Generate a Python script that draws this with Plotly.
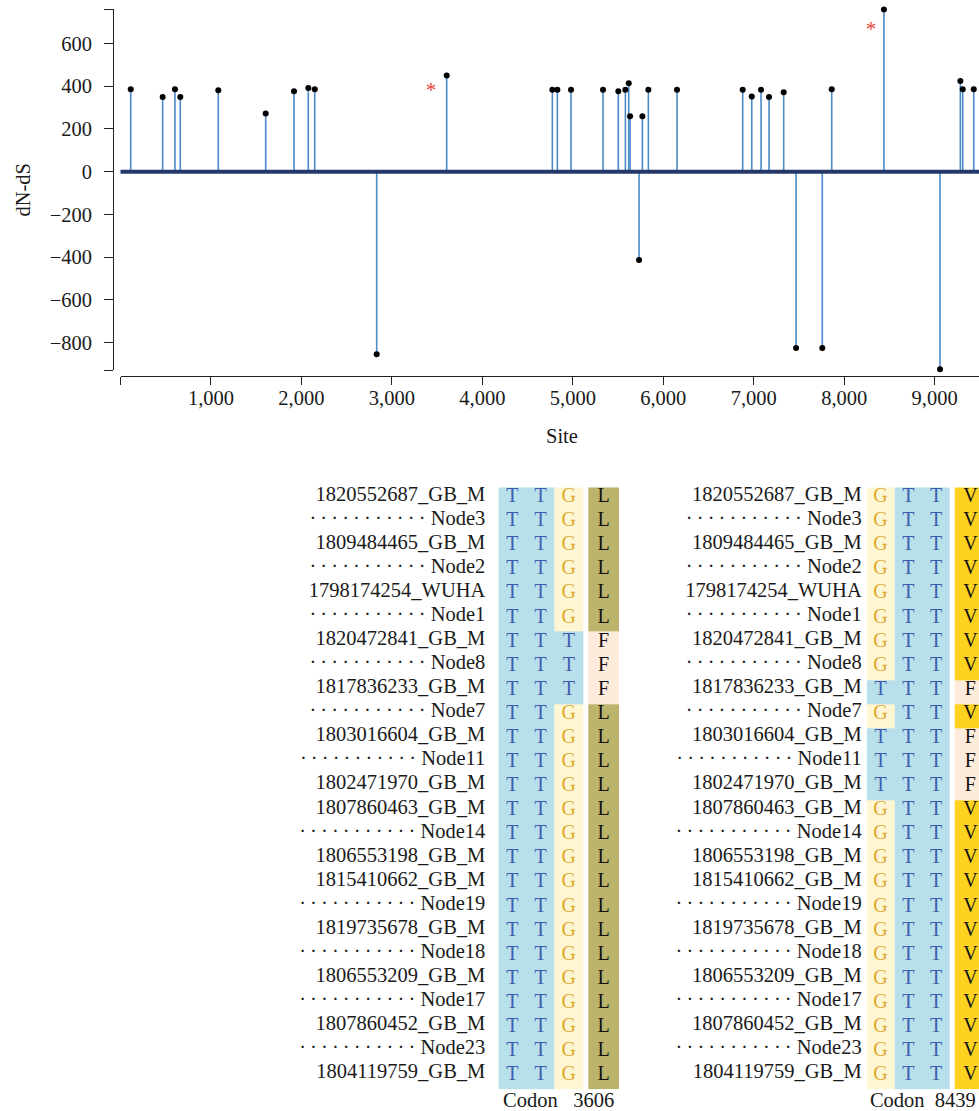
import plotly.graph_objects as go
import numpy as np

W, H = 979, 1111
FONT = "Liberation Serif"

# ---------------- data: dN-dS per site ----------------
sites = [113, 466, 602, 661, 1081, 1605, 1918, 2076, 2147, 2832, 3606, 4774,
         4829, 4980, 5334, 5503, 5581, 5618, 5633, 5732, 5769, 5835, 6152,
         6878, 6978, 7081, 7169, 7331, 7468, 7758, 7862, 8439, 9059, 9284,
         9310, 9432]
dnds = [386, 350, 386, 350, 381, 272, 377, 392, 386, -854, 450, 383,
        383, 383, 383, 377, 383, 414, 260, -413, 260, 383, 383,
        383, 352, 383, 349, 372, -825, -825, 386, 759, -925, 424,
        386, 386]
star_sites = [3432, 8297]
star_vals = [374, 661]

x_ticks = [0, 1000, 2000, 3000, 4000, 5000, 6000, 7000, 8000, 9000]
y_ticks = [-800, -600, -400, -200, 0, 200, 400, 600]

# ---------------- data: alignment ----------------
row_labels = ["1820552687_GB_M", "Node3", "1809484465_GB_M", "Node2",
              "1798174254_WUHA", "Node1", "1820472841_GB_M", "Node8",
              "1817836233_GB_M", "Node7", "1803016604_GB_M", "Node11",
              "1802471970_GB_M", "1807860463_GB_M", "Node14",
              "1806553198_GB_M", "1815410662_GB_M", "Node19",
              "1819735678_GB_M", "Node18", "1806553209_GB_M", "Node17",
              "1807860452_GB_M", "Node23", "1804119759_GB_M"]
codon_3606 = ["TTG"] * 6 + ["TTT"] * 3 + ["TTG"] * 16
aa_3606 = ["L"] * 6 + ["F"] * 3 + ["L"] * 16
codon_8439 = ["GTT"] * 8 + ["TTT"] + ["GTT"] + ["TTT"] * 3 + ["GTT"] * 12
aa_8439 = ["V"] * 8 + ["F"] + ["V"] + ["F"] * 3 + ["V"] * 12
panel_titles = ["Codon\u00a0\u00a0 3606", "Codon\u00a0 8439"]

# ---------------- styles ----------------
cell_keys = ["gap", "T", "G", "L", "F", "V"]
cell_color = {"gap": "#ffffff", "T": "#b8e0ea", "G": "#fff7d3",
              "L": "#bcb46c", "F": "#fdebdb", "V": "#fdd31f"}
letter_color = {"T": "#3f5db0", "G": "#e0a82f", "L": "#111111",
                "F": "#111111", "V": "#111111"}
col_edges = [0, 1, 2, 3, 3.18, 4.28]
LETTER_DY = 0.16
FS = 20.5


def px(xp):
    return xp / W


def py(yp):
    return 1 - yp / H


fig = go.Figure()

# stems
sx, sy = [], []
for s, v in zip(sites, dnds):
    sx += [s, s, None]
    sy += [0, v, None]
fig.add_trace(go.Scatter(x=sx, y=sy, mode="lines",
                         line=dict(color="#4a8ac8", width=1.6),
                         hoverinfo="skip", xaxis="x", yaxis="y"))
fig.add_trace(go.Scatter(x=sites, y=dnds, mode="markers",
                         marker=dict(color="black", size=6),
                         cliponaxis=False, xaxis="x", yaxis="y"))
fig.add_trace(go.Scatter(x=star_sites, y=star_vals, mode="text", text=["*"] * 2,
                         textfont=dict(family=FONT, size=21, color="#e8473c"),
                         cliponaxis=False, xaxis="x", yaxis="y"))

fig.add_shape(type="line", xref="x domain", yref="y", x0=0, x1=1, y0=0, y1=0,
              line=dict(color="#24386a", width=4), layer="above")

# alignment panels
colorscale = []
n = len(cell_keys)
for k, key in enumerate(cell_keys):
    colorscale += [[k / n, cell_color[key]], [(k + 1) / n, cell_color[key]]]

row_idx = list(range(len(row_labels)))
y_edges = list(np.arange(len(row_labels) + 1) - 0.25)
centers = [(col_edges[i] + col_edges[i + 1]) / 2 for i in range(len(col_edges) - 1)]


def leader(lbl):
    if lbl.startswith("Node"):
        return "\u2009".join(["·"] * 11) + " " + lbl
    return lbl


tick_text = [leader(l) for l in row_labels]

for p, (codons, aas) in enumerate([(codon_3606, aa_3606), (codon_8439, aa_8439)]):
    xa = "x%d" % (p + 2)
    ya = "y%d" % (p + 2)
    z = []
    tx, ty, tt, tc = [], [], [], []
    for r, (cod, aa) in enumerate(zip(codons, aas)):
        z.append([cell_keys.index(cod[0]), cell_keys.index(cod[1]),
                  cell_keys.index(cod[2]), 0, cell_keys.index(aa)])
        for ci, letter in zip([0, 1, 2, 4], [cod[0], cod[1], cod[2], aa]):
            tx.append(centers[ci])
            ty.append(r + LETTER_DY)
            tt.append(letter)
            tc.append(letter_color[letter])
    fig.add_trace(go.Heatmap(z=z, x=col_edges, y=y_edges, colorscale=colorscale,
                             zmin=-0.5, zmax=n - 0.5, showscale=False,
                             hoverinfo="skip", xaxis=xa, yaxis=ya))
    fig.add_trace(go.Scatter(x=tx, y=ty, mode="text", text=tt,
                             textfont=dict(family=FONT, size=20, color=tc),
                             cliponaxis=False, hoverinfo="skip",
                             xaxis=xa, yaxis=ya))

axis_font = dict(family=FONT, size=FS, color="#1a1a1a")
ylo, yhi = -928, 760

fig.update_layout(
    width=W, height=H, margin=dict(l=0, r=0, t=0, b=0, autoexpand=False),
    paper_bgcolor="white", plot_bgcolor="white", showlegend=False,
    xaxis=dict(domain=[px(120.5), 1], range=[0, 9490], anchor="free",
               position=py(375.7), showline=True, linecolor="#222",
               linewidth=1.2, ticks="outside", ticklen=8, tickwidth=1.2,
               tickcolor="#222", tickvals=x_ticks,
               ticktext=[""] + ["{:,}".format(v) for v in x_ticks[1:]],
               tickfont=axis_font, showgrid=False, zeroline=False,
               ticklabelstandoff=-4, automargin=False),
    yaxis=dict(domain=[py(370), py(9.3)], range=[ylo, yhi], anchor="free",
               position=px(113.3), showline=True, linecolor="#222",
               linewidth=1.2, ticks="outside", ticklen=9, tickwidth=1.2,
               tickcolor="#222", tickvals=[ylo] + y_ticks + [yhi],
               ticktext=[""] + [str(v).replace("-", "\u2212") for v in y_ticks] + [""],
               tickfont=axis_font, showgrid=False, zeroline=False,
               ticklabelstandoff=8, automargin=False),
    xaxis2=dict(domain=[px(498.3), px(498.3 + 4.28 * 28.2)], range=[0, 4.28],
                anchor="y2", showticklabels=False, ticks="", showline=False,
                showgrid=False, zeroline=False, automargin=False,
                title=dict(text=panel_titles[0], font=axis_font, standoff=6)),
    yaxis2=dict(domain=[py(1089.3), py(487.3)], range=[24.75, -0.25],
                anchor="x2", tickvals=row_idx, ticktext=tick_text,
                tickfont=axis_font, ticks="", showline=False, showgrid=False,
                zeroline=False, ticklabelstandoff=12, automargin=False),
    xaxis3=dict(domain=[px(866.7), 1], range=[0, 112.3 / 27.8], anchor="y3",
                showticklabels=False, ticks="", showline=False,
                showgrid=False, zeroline=False, automargin=False,
                title=dict(text=panel_titles[1], font=axis_font, standoff=6)),
    yaxis3=dict(domain=[py(1089.3), py(487.3)], range=[24.75, -0.25],
                anchor="x3", tickvals=row_idx, ticktext=tick_text,
                tickfont=axis_font, ticks="", showline=False, showgrid=False,
                zeroline=False, ticklabelstandoff=4, automargin=False),
    annotations=[
        dict(text="dN-dS", x=px(23), y=py(189.6), xref="paper", yref="paper",
             textangle=-90, showarrow=False, font=axis_font,
             xanchor="center", yanchor="middle"),
        dict(text="Site", x=px(562), y=py(436), xref="paper", yref="paper",
             showarrow=False, font=axis_font, xanchor="center",
             yanchor="middle"),
    ],
)

fig.write_html("out.html")
